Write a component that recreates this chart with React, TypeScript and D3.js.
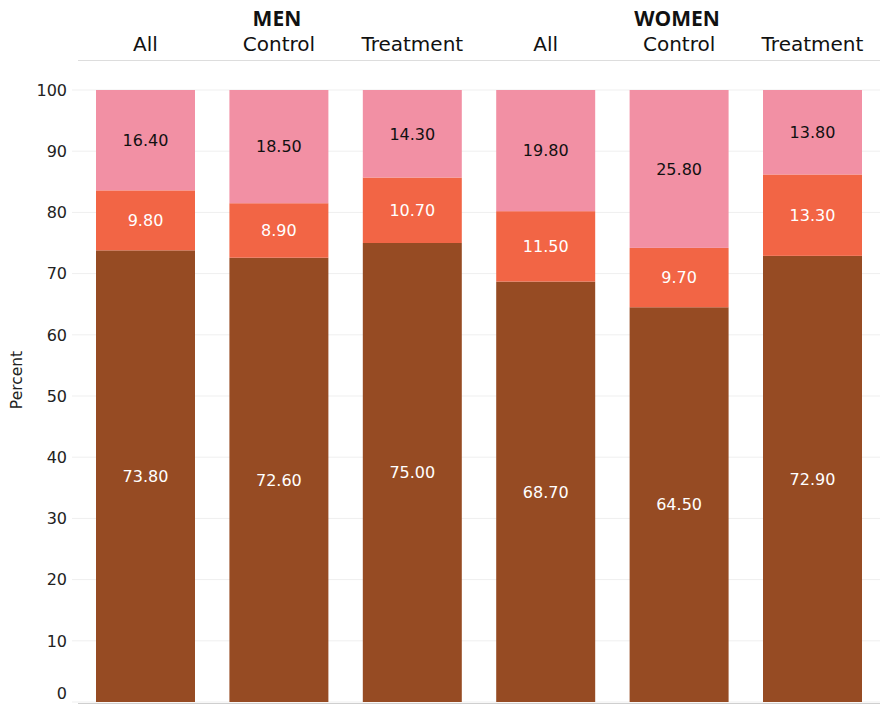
import React from "react";
import * as d3 from "d3";

const groups = ["MEN", "WOMEN"];
const subLabels = ["All", "Control", "Treatment", "All", "Control", "Treatment"];
const categoryGroup = ["MEN", "MEN", "MEN", "WOMEN", "WOMEN", "WOMEN"];
const bottomValues = [73.8, 72.6, 75.0, 68.7, 64.5, 72.9];
const middleValues = [9.8, 8.9, 10.7, 11.5, 9.7, 13.3];
const topValues = [16.4, 18.5, 14.3, 19.8, 25.8, 13.8];
const yTicks = [0, 10, 20, 30, 40, 50, 60, 70, 80, 90, 100];
const seriesColors = ["#964B23", "#F26545", "#F290A4"];
const labelColors = ["#ffffff", "#ffffff", "#111111"];

const W = 887;
const H = 705;
const left = 78;
const right = 880;
const yTop = 90;
const yBottom = 702;
const FONT = "'DejaVu Sans', sans-serif";

export default function App() {
  const ids = subLabels.map((_, i) => String(i));
  const x = d3.scaleBand<string>().domain(ids).range([left, right]).paddingInner(0.258).paddingOuter(0.135);
  const y = d3.scaleLinear().domain([0, 100]).range([yBottom, yTop]);
  const series = [bottomValues, middleValues, topValues];
  const rows = ids.map((id, i) => ({ id, v0: bottomValues[i], v1: middleValues[i], v2: topValues[i] }));
  const stacked = d3.stack<any>().keys(["v0", "v1", "v2"])(rows);

  return (
    <svg width={W} height={H} style={{ position: "absolute", left: 0, top: 0, background: "#fff" }}>
      {yTicks.map((t) => (
        <g key={t}>
          <line x1={72} x2={right} y1={y(t)} y2={y(t)} stroke="#efefef" strokeWidth={1} />
          <text
            x={67}
            y={t === 0 ? y(t) - 3 : y(t)}
            dy={t === 0 ? "0" : "0.36em"}
            textAnchor="end"
            fontFamily={FONT}
            fontSize={16}
            fill="#222"
          >
            {t}
          </text>
        </g>
      ))}
      <text
        transform={`translate(22,380) rotate(-90)`}
        textAnchor="middle"
        fontFamily={FONT}
        fontSize={15.5}
        fill="#222"
      >
        Percent
      </text>
      {stacked.map((layer, si) =>
        layer.map((d, i) => (
          <g key={`${si}-${i}`}>
            <rect
              x={x(ids[i])}
              width={x.bandwidth()}
              y={y(d[1])}
              height={y(d[0]) - y(d[1])}
              fill={seriesColors[si]}
            />
            <text
              x={(x(ids[i]) as number) + x.bandwidth() / 2}
              y={(y(d[0]) + y(d[1])) / 2}
              dy="0.36em"
              textAnchor="middle"
              fontFamily={FONT}
              fontSize={16}
              fill={labelColors[si]}
            >
              {series[si][i].toFixed(2)}
            </text>
          </g>
        ))
      )}
      <line x1={left} x2={right} y1={703.5} y2={703.5} stroke="#cfcfcf" strokeWidth={1} />
      <line x1={left} x2={right} y1={60.5} y2={60.5} stroke="#dddddd" strokeWidth={1} />
      {subLabels.map((s, i) => (
        <text
          key={i}
          x={(x(ids[i]) as number) + x.bandwidth() / 2}
          y={51}
          textAnchor="middle"
          fontFamily={FONT}
          fontSize={20}
          fill="#111"
        >
          {s}
        </text>
      ))}
      {groups.map((g) => {
        const idx = categoryGroup.map((c, i) => (c === g ? i : -1)).filter((i) => i >= 0);
        const mid = idx[Math.floor(idx.length / 2)];
        return (
          <text
            key={g}
            x={(x(ids[mid]) as number) + x.bandwidth() / 2 - 2}
            y={26}
            textAnchor="middle"
            fontFamily="'Open Sans', sans-serif"
            fontWeight="bold"
            fontSize={21}
            fill="#111"
          >
            {g}
          </text>
        );
      })}
    </svg>
  );
}
